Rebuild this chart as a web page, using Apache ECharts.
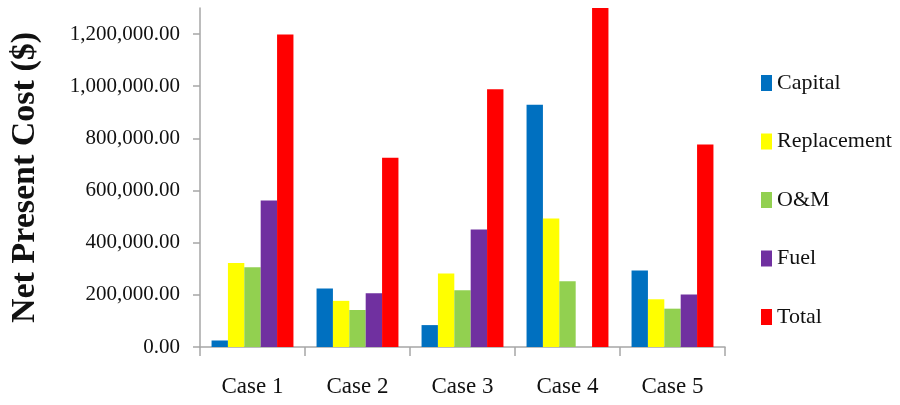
<!DOCTYPE html>
<html><head><meta charset="utf-8">
<script src="https://cdn.jsdelivr.net/npm/echarts@6/dist/echarts.min.js"></script>
<style>html,body{margin:0;padding:0;background:#fff}#c{width:900px;height:405px}</style>
</head><body><div id="c"></div>
<script>
const categories = ['Case 1', 'Case 2', 'Case 3', 'Case 4', 'Case 5'];
const seriesNames = ['Capital', 'Replacement', 'O&M', 'Fuel', 'Total'];
const capital = [25000, 224000, 84000, 929000, 293000];
const replacement = [322000, 177000, 282000, 493000, 183000];
const om = [306000, 142000, 218000, 252000, 147000];
const fuel = [562000, 206000, 451000, 0, 201000];
const total = [1198000, 726000, 988000, 1300000, 777000];
const yTicks = [0, 200000, 400000, 600000, 800000, 1000000, 1200000];
const colors = ['#0070C0', '#FFFF00', '#92D050', '#7030A0', '#FF0000'];

const font = 'Liberation Serif';
const chart = echarts.init(document.getElementById('c'));
const values = [capital, replacement, om, fuel, total];
chart.setOption({
  animation: false,
  color: colors,
  grid: { left: 193, right: 175, top: 8, bottom: 58 },
  legend: {
    orient: 'vertical', left: 756, top: 67,
    icon: 'rect', itemWidth: 11, itemHeight: 16, itemGap: 36.5,
    textStyle: { fontFamily: font, fontSize: 22, color: '#111' },
    data: seriesNames
  },
  xAxis: {
    type: 'category', data: categories,
    axisLine: { lineStyle: { color: '#a6a6a6', width: 1.5 } },
    axisTick: { show: true, length: 9, lineStyle: { color: '#a6a6a6', width: 1.5 } },
    axisLabel: { fontFamily: font, fontSize: 23, color: '#111', margin: 28 }
  },
  yAxis: {
    type: 'value', min: 0, max: 1300000, interval: 200000,
    name: 'Net Present Cost ($)', nameLocation: 'middle', nameRotate: 90, nameGap: 158,
    nameTextStyle: { fontFamily: font, fontSize: 34, fontWeight: 'bold', color: '#111' },
    axisLine: { show: true, lineStyle: { color: '#a6a6a6', width: 1.5 } },
    axisTick: { show: true, length: 7, customValues: yTicks, lineStyle: { color: '#a6a6a6', width: 1.5 } },
    axisLabel: {
      customValues: yTicks, fontFamily: font, fontSize: 21, color: '#111', margin: 20,
      formatter: v => v.toLocaleString('en-US', { minimumFractionDigits: 2, maximumFractionDigits: 2 })
    },
    splitLine: { show: false }
  },
  series: seriesNames.map((n, i) => ({
    name: n, type: 'bar', data: values[i],
    barGap: '0%', barCategoryGap: '22%'
  }))
});
</script></body></html>
